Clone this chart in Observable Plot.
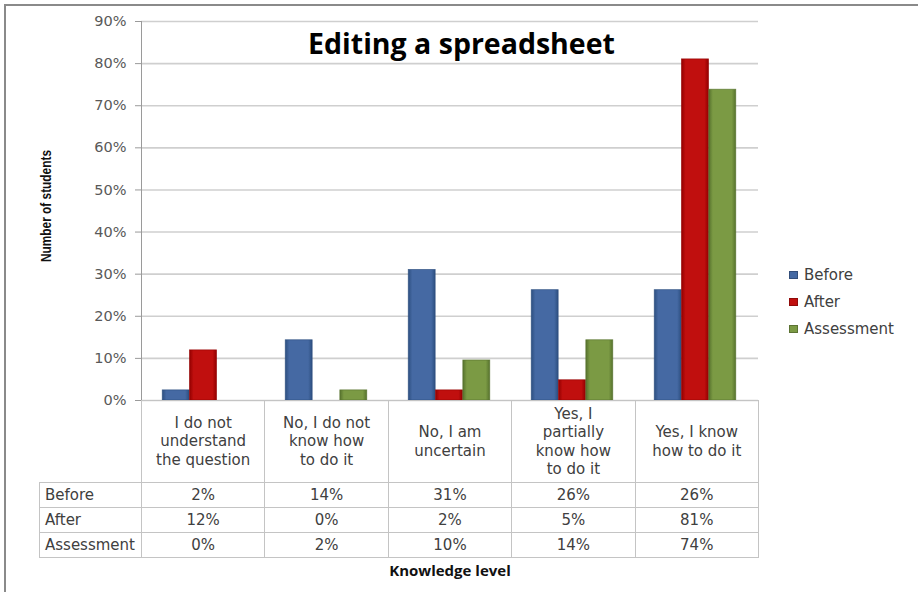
<!DOCTYPE html>
<html>
<head>
<meta charset="utf-8">
<script src="https://cdn.jsdelivr.net/npm/d3@7"></script>
<script src="https://cdn.jsdelivr.net/npm/@observablehq/plot@0.6"></script>
<style>
  html, body { margin: 0; padding: 0; background: #fff; }
  #wrap { position: relative; width: 918px; height: 592px; overflow: hidden; font-family: "DejaVu Sans", sans-serif; }
  #frame { position: absolute; left: 4px; top: 4px; width: 1000px; height: 1000px; border-left: 2px solid #8a8a8a; border-top: 2px solid #8a8a8a; }
  #chart { position: absolute; left: 0; top: 0; }
  #legend { position: absolute; left: 789px; top: 261px; font-size: 15px; color: #404040; }
  #legend .item { height: 27px; line-height: 20px; display: flex; align-items: center; }
  #legend .sw { width: 9px; height: 8px; margin-right: 6px; border: 1px solid rgba(0,0,0,0.25); box-sizing: border-box; }
  table.dt { position: absolute; left: 39px; top: 400px; border-collapse: collapse; table-layout: fixed; font-size: 15px; color: #404040; }
  table.dt td { border: 1.5px solid #c4c4c4; padding: 0; text-align: center; height: 24px; line-height: 18.3px; overflow: hidden; }
  table.dt tr.hdr td { height: 81px; vertical-align: middle; }
  table.dt tr.hdr td.blank { border-top: none; border-left: none; }
  table.dt td.rl { text-align: left; padding-left: 5px; }
  #xlabel { position: absolute; left: 0; width: 900px; top: 560px; text-align: center; font-family: "Open Sans", sans-serif; font-weight: bold; font-size: 15px; color: #111; }
</style>
</head>
<body>
<div id="wrap">
  <div id="frame"></div>
  <div id="chart"></div>
  <div id="legend"></div>
  <table class="dt" id="table"></table>
  <div id="xlabel"></div>
</div>
<script>
// ---- data ----
const categories = [
  "I do not understand the question",
  "No, I do not know how to do it",
  "No, I am uncertain",
  "Yes, I partially know how to do it",
  "Yes, I know how to do it"
];
const categoryLines = [
  ["I do not", "understand", "the question"],
  ["No, I do not", "know how", "to do it"],
  ["No, I am", "uncertain"],
  ["Yes, I", "partially", "know how", "to do it"],
  ["Yes, I know", "how to do it"]
];
const seriesNames = ["Before", "After", "Assessment"];
const before = [0.024, 0.143, 0.31, 0.262, 0.262];
const after = [0.119, 0.0, 0.024, 0.048, 0.81];
const assessment = [0.0, 0.024, 0.095, 0.143, 0.738];
const tableBefore = ["2%", "14%", "31%", "26%", "26%"];
const tableAfter = ["12%", "0%", "2%", "5%", "81%"];
const tableAssessment = ["0%", "2%", "10%", "14%", "74%"];
const yTicks = [0, 0.1, 0.2, 0.3, 0.4, 0.5, 0.6, 0.7, 0.8, 0.9];
const title = "Editing a spreadsheet";
const yTitle = "Number of students";
const xTitle = "Knowledge level";

const seriesColors = {
  Before: ["#2d4f80", "#4569a3"],
  After: ["#930000", "#c00f0e"],
  Assessment: ["#56722d", "#7b9a44"]
};
const seriesValues = [before, after, assessment];

const rows = [];
seriesNames.forEach((s, i) => categories.forEach((c, j) => rows.push({series: s, cat: c, value: seriesValues[i][j]})));

const W = 918, mL = 141, mR = 160, mT = 21, mB = 10, H = 410;
const bw = (W - mL - mR) / categories.length;
const barW = 27.3;
const inset = (bw - barW) / 2;

const gradId = s => "grad-" + s;

const chart = Plot.plot({
  width: W,
  height: H,
  marginLeft: mL,
  marginRight: mR,
  marginTop: mT,
  marginBottom: mB,
  style: {background: "transparent", overflow: "visible"},
  x: {type: "band", domain: categories, padding: 0, axis: null},
  y: {domain: [0, 0.9], axis: null},
  marks: [
    Plot.ruleY(yTicks, {stroke: "#cfcfcf", strokeWidth: 1.6}),
    Plot.axisY({ticks: yTicks, tickFormat: d3.format(".0%"), tickSize: 6, tickPadding: 9, fontSize: 14.5, fontFamily: "DejaVu Sans", color: "#595959", stroke: "#9a9a9a", label: null}),
    Plot.frame({anchor: "left", stroke: "#9a9a9a"}),
    ...seriesNames.map((s, i) => Plot.barY(rows.filter(d => d.series === s), {
      x: "cat", y: "value",
      dx: (i - 1) * barW - 0.5,
      insetLeft: inset, insetRight: inset,
      fill: `url(#${gradId(s)})`,
      stroke: seriesColors[s][0], strokeWidth: 0.8, strokeOpacity: 0.8
    })),
    Plot.text([title], {frameAnchor: "top", dx: 11.5, dy: 12, fontSize: 28.5, fontWeight: "bold", fontFamily: "Open Sans", fill: "#000"}),
    Plot.text([yTitle], {frameAnchor: "left", textAnchor: "middle", dx: -95, dy: -5, rotate: -90, fontSize: 15.5, fontWeight: "bold", fontFamily: "Liberation Sans, sans-serif", fill: "#111"})
  ]
});

// gradients for the Excel-like bevelled bars
const defs = seriesNames.map(s => {
  const [dark, light] = seriesColors[s];
  return `<linearGradient id="${gradId(s)}" x1="0" x2="1" y1="0" y2="0">
    <stop offset="0" stop-color="${dark}"/>
    <stop offset="0.15" stop-color="${light}"/>
    <stop offset="0.85" stop-color="${light}"/>
    <stop offset="1" stop-color="${dark}"/>
  </linearGradient>`;
}).join("");
chart.insertAdjacentHTML("afterbegin", `<defs>${defs}</defs>`);
// condense the y-axis title like the narrow font of the original
chart.querySelectorAll("text").forEach(t => {
  if (t.textContent === yTitle) {
    t.setAttribute("textLength", "112");
    t.setAttribute("lengthAdjust", "spacingAndGlyphs");
  }
});
document.getElementById("chart").appendChild(chart);

// legend
const legend = document.getElementById("legend");
seriesNames.forEach(s => {
  const it = document.createElement("div");
  it.className = "item";
  it.innerHTML = `<span class="sw" style="background:${seriesColors[s][1]}"></span><span>${s}</span>`;
  legend.appendChild(it);
});

// data table
const table = document.getElementById("table");
const colgroup = document.createElement("colgroup");
colgroup.innerHTML = `<col style="width:${mL - 39}px">` + categories.map(() => `<col style="width:${bw}px">`).join("");
table.appendChild(colgroup);
const hdr = document.createElement("tr");
hdr.className = "hdr";
hdr.innerHTML = `<td class="blank"></td>` + categoryLines.map(l => `<td>${l.join("<br>")}</td>`).join("");
table.appendChild(hdr);
[tableBefore, tableAfter, tableAssessment].forEach((vals, i) => {
  const tr = document.createElement("tr");
  tr.innerHTML = `<td class="rl">${seriesNames[i]}</td>` + vals.map(v => `<td>${v}</td>`).join("");
  table.appendChild(tr);
});
table.style.width = (mL - 39 + bw * categories.length) + "px";

document.getElementById("xlabel").textContent = xTitle;
</script>
</body>
</html>
